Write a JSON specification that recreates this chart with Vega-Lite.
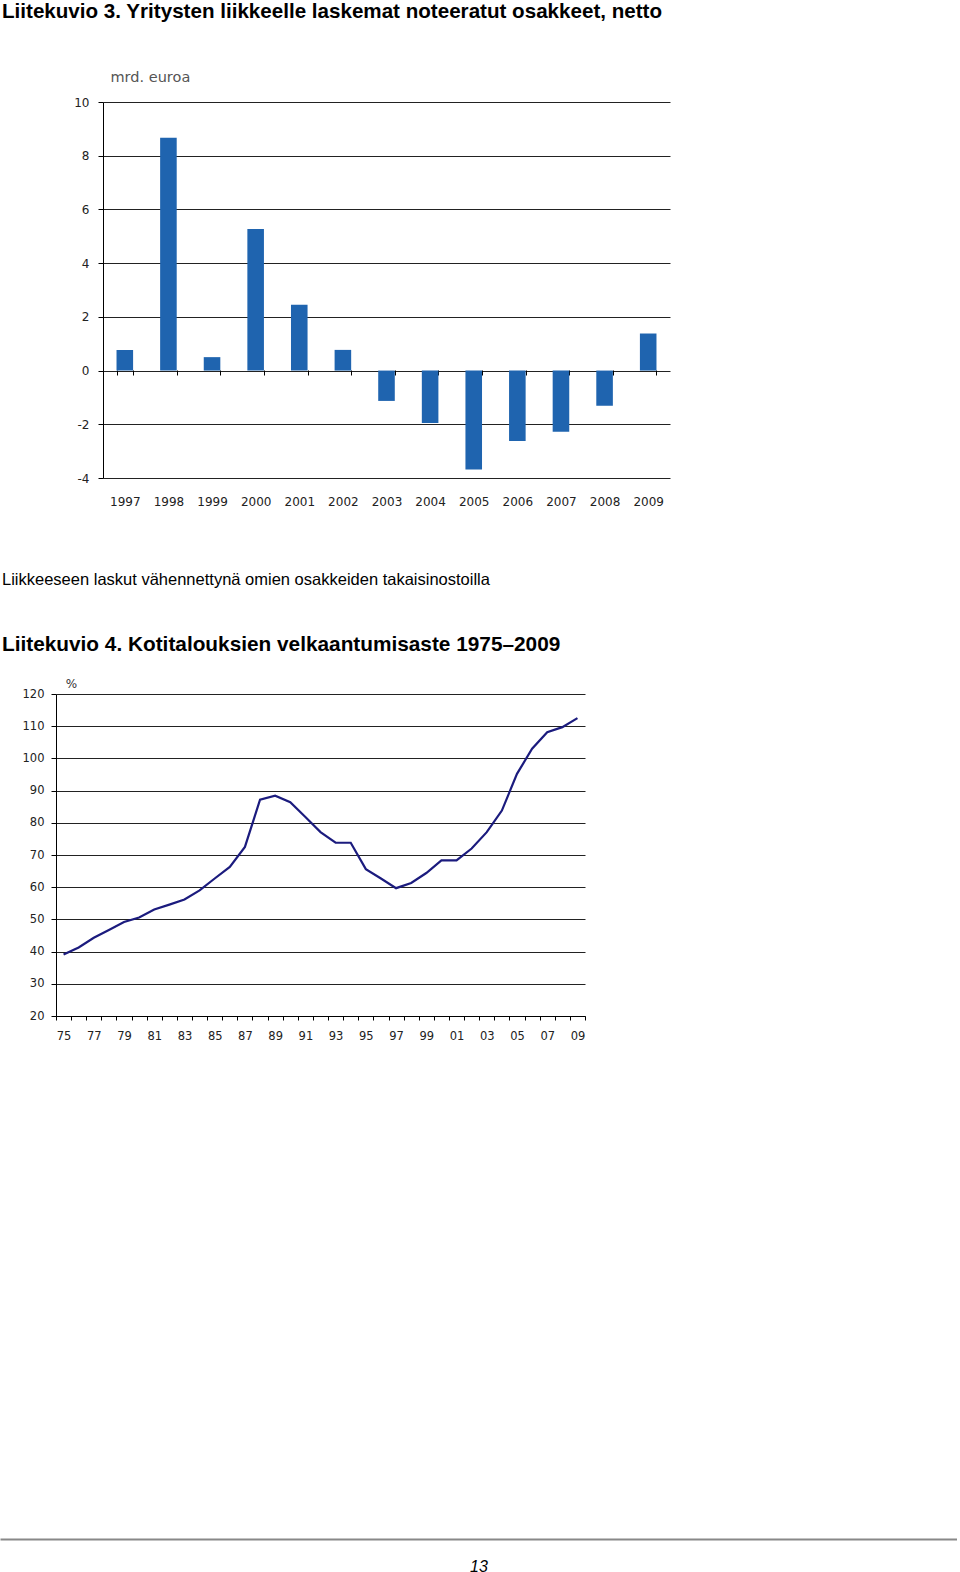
{
  "$schema": "https://vega.github.io/schema/vega-lite/v6.json",
  "background": "white",
  "padding": {"left": 0, "top": 2, "right": 0, "bottom": 0},
  "bounds": "flush",
  "spacing": 216,
  "config": {
    "view": {"stroke": null, "fill": null},
    "axis": {"labelFont": "DejaVu Sans", "labelColor": "#222", "titleFont": "DejaVu Sans", "domainColor": "#000", "tickColor": "#000", "gridColor": "#222", "gridWidth": 1, "domainWidth": 1, "tickWidth": 1},
    "title": {"anchor": "start", "frame": "group", "font": "Liberation Sans", "color": "#000", "subtitleFont": "Liberation Sans", "subtitleColor": "#000"}
  },
  "vconcat": [
    {
      "width": 670,
      "height": 376,
      "title": {"text": "Liitekuvio 3. Yritysten liikkeelle laskemat noteeratut osakkeet, netto", "fontSize": 20.6, "fontWeight": "bold", "dx": 2, "offset": 46},
      "data": {"values": [
        {"year": "1997", "value": 0.77},
        {"year": "1998", "value": 8.67},
        {"year": "1999", "value": 0.50},
        {"year": "2000", "value": 5.27},
        {"year": "2001", "value": 2.45},
        {"year": "2002", "value": 0.77},
        {"year": "2003", "value": -1.13},
        {"year": "2004", "value": -1.95},
        {"year": "2005", "value": -3.68},
        {"year": "2006", "value": -2.62},
        {"year": "2007", "value": -2.28},
        {"year": "2008", "value": -1.31},
        {"year": "2009", "value": 1.38}
      ]},
      "mark": {"type": "bar", "color": "#1F64AF"},
      "encoding": {
        "x": {"field": "year", "type": "ordinal", "scale": {"range": [103, 670], "paddingInner": 0.62, "paddingOuter": 0.31},
          "axis": {"orient": "bottom", "offset": -108, "domain": false, "ticks": true, "tickSize": 5, "tickBand": "extent", "labelPadding": 121, "labelAngle": 0, "labelFontSize": 12, "title": null, "grid": false}},
        "y": {"field": "value", "type": "quantitative", "scale": {"domain": [-4, 10], "nice": false, "zero": false},
          "axis": {"orient": "left", "offset": -103, "values": [-4, -2, 0, 2, 4, 6, 8, 10], "labelExpr": "'' + datum.value", "grid": true, "tickSize": 5, "labelPadding": 9, "labelFontSize": 12, "title": "mrd. euroa", "titleAngle": 0, "titleAlign": "left", "titleBaseline": "middle", "titleX": 7, "titleY": -25, "titleFontSize": 14.5, "titleFontWeight": "normal", "titleColor": "#555"}}
      }
    },
    {
      "width": 585,
      "height": 322,
      "title": {"text": "Liikkeeseen laskut vähennettynä omien osakkeiden takaisinostoilla", "fontSize": 16.5, "fontWeight": "normal", "subtitle": "Liitekuvio 4. Kotitalouksien velkaantumisaste 1975–2009", "subtitleFontSize": 20.8, "subtitleFontWeight": "bold", "subtitlePadding": 47, "dx": 2, "offset": 22},
      "data": {"values": [
        {"year": "1975", "ratio": 39.1}, {"year": "1976", "ratio": 41.3}, {"year": "1977", "ratio": 44.3},
        {"year": "1978", "ratio": 46.7}, {"year": "1979", "ratio": 49.2}, {"year": "1980", "ratio": 50.6},
        {"year": "1981", "ratio": 53.1}, {"year": "1982", "ratio": 54.6}, {"year": "1983", "ratio": 56.2},
        {"year": "1984", "ratio": 59.0}, {"year": "1985", "ratio": 62.7}, {"year": "1986", "ratio": 66.3},
        {"year": "1987", "ratio": 72.5}, {"year": "1988", "ratio": 87.2}, {"year": "1989", "ratio": 88.4},
        {"year": "1990", "ratio": 86.4}, {"year": "1991", "ratio": 81.8}, {"year": "1992", "ratio": 77.1},
        {"year": "1993", "ratio": 73.8}, {"year": "1994", "ratio": 73.8}, {"year": "1995", "ratio": 65.6},
        {"year": "1996", "ratio": 62.7}, {"year": "1997", "ratio": 59.7}, {"year": "1998", "ratio": 61.3},
        {"year": "1999", "ratio": 64.4}, {"year": "2000", "ratio": 68.3}, {"year": "2001", "ratio": 68.3},
        {"year": "2002", "ratio": 72.0}, {"year": "2003", "ratio": 77.1}, {"year": "2004", "ratio": 83.8},
        {"year": "2005", "ratio": 95.2}, {"year": "2006", "ratio": 103.0}, {"year": "2007", "ratio": 108.1},
        {"year": "2008", "ratio": 109.7}, {"year": "2009", "ratio": 112.5}
      ]},
      "mark": {"type": "line", "color": "#1B1B7E", "strokeWidth": 2.2},
      "encoding": {
        "x": {"field": "year", "type": "ordinal", "bandPosition": 0.5, "scale": {"type": "band", "range": [56, 585], "paddingInner": 0, "paddingOuter": 0},
          "axis": {"orient": "bottom", "domain": true, "ticks": true, "tickSize": 4, "tickBand": "extent", "labelExpr": "toNumber(datum.value) % 2 == 1 ? substring(datum.value, 2, 4) : ''", "labelPadding": 10, "labelAngle": 0, "labelFontSize": 11.5, "title": null, "grid": false}},
        "y": {"field": "ratio", "type": "quantitative", "scale": {"domain": [20, 120], "nice": false, "zero": false},
          "axis": {"orient": "left", "offset": -56, "values": [20, 30, 40, 50, 60, 70, 80, 90, 100, 110, 120], "grid": true, "tickSize": 5, "labelPadding": 7, "labelFontSize": 11.5, "title": "%", "titleAngle": 0, "titleAlign": "center", "titleBaseline": "middle", "titleX": 15, "titleY": -11, "titleFontSize": 12, "titleFontWeight": "normal", "titleColor": "#333"}}
      }
    },
    {
      "width": 957,
      "height": 307,
      "data": {"values": [{"page": "13"}]},
      "mark": {"type": "point", "opacity": 0},
      "encoding": {
        "x": {"field": "page", "type": "nominal",
          "axis": {"orient": "bottom", "domain": true, "domainColor": "#888", "domainWidth": 2, "ticks": false, "grid": false, "labelFont": "Liberation Sans", "labelFontStyle": "italic", "labelFontSize": 16, "labelColor": "#000", "labelPadding": 19, "labelAngle": 0, "title": null}}
      }
    }
  ]
}
